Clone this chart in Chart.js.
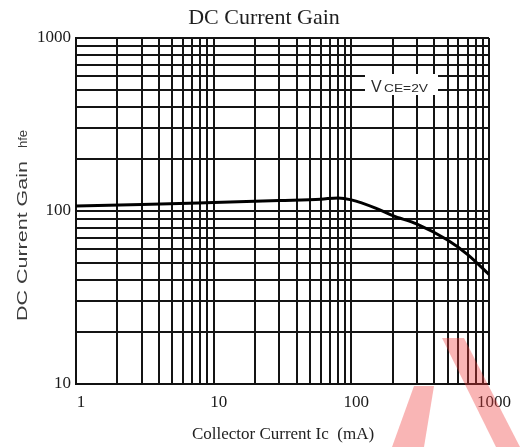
<!DOCTYPE html>
<html>
<head>
<meta charset="utf-8">
<script src="https://cdn.jsdelivr.net/npm/chart.js@4.4.1/dist/chart.umd.min.js"></script>
<style>
  html, body { margin: 0; padding: 0; background: #fff; }
  #wrap { width: 523px; height: 447px; }
</style>
</head>
<body>
<div id="wrap"><canvas id="gainChart" width="523" height="447"></canvas></div>
<script>
// DC current gain hFE vs collector current, VCE = 2V
const currentMA = [1, 3, 10, 30, 60, 80, 100, 150, 200, 300, 500, 700, 1000];
const gainHfe = [107, 109, 112, 115, 117, 119, 116, 104, 94, 84, 68, 56, 43];

// grid / tick positions (log decades with 1..9 subdivisions)
const xTickValues = [1, 2, 3, 4, 5, 6, 7, 8, 9, 10, 20, 30, 40, 50, 60, 70, 80, 90,
    100, 200, 300, 400, 500, 600, 700, 800, 900, 1000];
const yTickValues = [10, 20, 30, 40, 50, 60, 70, 80, 90, 100, 200, 300, 400, 500,
    600, 700, 800, 900, 1000];
const xLabels = [1, 10, 100, 1000];
const yLabels = [10, 100, 1000];

const titleText = 'DC Current Gain';
const xTitle = 'Collector Current Ic  (mA)';
const yTitle = 'DC Current Gain';
const yTitleUnit = 'hfe';

const decor = {
    id: 'decor',
    beforeDraw(chart) {
        const c = chart.ctx;
        c.save();
        c.fillStyle = '#fff';
        c.fillRect(0, 0, chart.width, chart.height);
        c.restore();
    },
    afterDraw(chart) {
        const c = chart.ctx;
        c.save();

        // chart title
        c.fillStyle = '#1e1e1e';
        c.font = '22px "Liberation Serif"';
        c.textAlign = 'center';
        c.textBaseline = 'alphabetic';
        c.fillText(titleText, 264, 24);

        // x axis title
        c.font = '17px "Liberation Serif"';
        c.fillStyle = '#222';
        c.fillText(xTitle, 283, 439);

        // y axis title (rotated)
        c.save();
        c.translate(27, 241);
        c.rotate(-Math.PI / 2);
        c.fillStyle = '#3c3c3c';
        c.font = '15px "Liberation Sans"';
        const w = c.measureText(yTitle).width;
        c.save();
        c.scale(160 / w, 1);
        c.fillText(yTitle, 0, 0);
        c.restore();
        c.font = '13px "Liberation Sans"';
        c.fillText(yTitleUnit, 102, 0);
        c.restore();

        // VCE = 2V label box
        c.fillStyle = '#fff';
        c.fillRect(365, 74, 73, 21);
        c.fillStyle = '#2a2a2a';
        c.textAlign = 'left';
        c.font = '16px "Liberation Sans"';
        c.fillText('V', 371, 92);
        c.save();
        c.translate(384, 92);
        c.scale(1.25, 1);
        c.font = '11px "Liberation Sans"';
        c.fillText('CE=2V', 0, 0);
        c.restore();

        // red watermark strokes
        c.fillStyle = 'rgba(240, 60, 60, 0.38)';
        c.beginPath();
        c.moveTo(392, 447); c.lineTo(424, 447); c.lineTo(434, 386); c.lineTo(414, 386);
        c.closePath();
        c.fill();
        c.beginPath();
        c.moveTo(442, 338); c.lineTo(464, 338); c.lineTo(520, 447); c.lineTo(496, 447);
        c.closePath();
        c.fill();

        c.restore();
    }
};

const ctx = document.getElementById('gainChart').getContext('2d');
new Chart(ctx, {
    type: 'line',
    data: {
        datasets: [{
            data: currentMA.map((x, i) => ({ x: x, y: gainHfe[i] })),
            borderColor: '#000',
            borderWidth: 3,
            pointRadius: 0,
            cubicInterpolationMode: 'monotone',
            fill: false
        }]
    },
    options: {
        responsive: false,
        animation: false,
        devicePixelRatio: 1,
        layout: { padding: { top: 38, right: 34, left: 0, bottom: 0 } },
        plugins: {
            legend: { display: false },
            title: { display: false },
            tooltip: { enabled: false }
        },
        scales: {
            x: {
                type: 'logarithmic',
                min: 1,
                max: 1000,
                afterBuildTicks: s => { s.ticks = xTickValues.map(v => ({ value: v })); },
                afterFit: s => { s.height = 63; },
                grid: { color: '#141414', lineWidth: 2, drawTicks: false },
                border: { display: true, color: '#111', width: 2 },
                ticks: {
                    autoSkip: false,
                    maxRotation: 0,
                    padding: 8,
                    labelOffset: 5,
                    color: '#1a1a1a',
                    font: { family: 'Liberation Serif', size: 17 },
                    callback: v => xLabels.includes(v) ? String(v) : ''
                }
            },
            y: {
                type: 'logarithmic',
                min: 10,
                max: 1000,
                afterBuildTicks: s => { s.ticks = yTickValues.map(v => ({ value: v })); },
                afterFit: s => { s.width = 76; },
                grid: { color: '#141414', lineWidth: 2, drawTicks: false },
                border: { display: true, color: '#111', width: 2 },
                ticks: {
                    autoSkip: false,
                    padding: 5,
                    color: '#1a1a1a',
                    font: { family: 'Liberation Serif', size: 17 },
                    callback: v => yLabels.includes(v) ? String(v) : ''
                }
            }
        }
    },
    plugins: [decor]
});
</script>
</body>
</html>
